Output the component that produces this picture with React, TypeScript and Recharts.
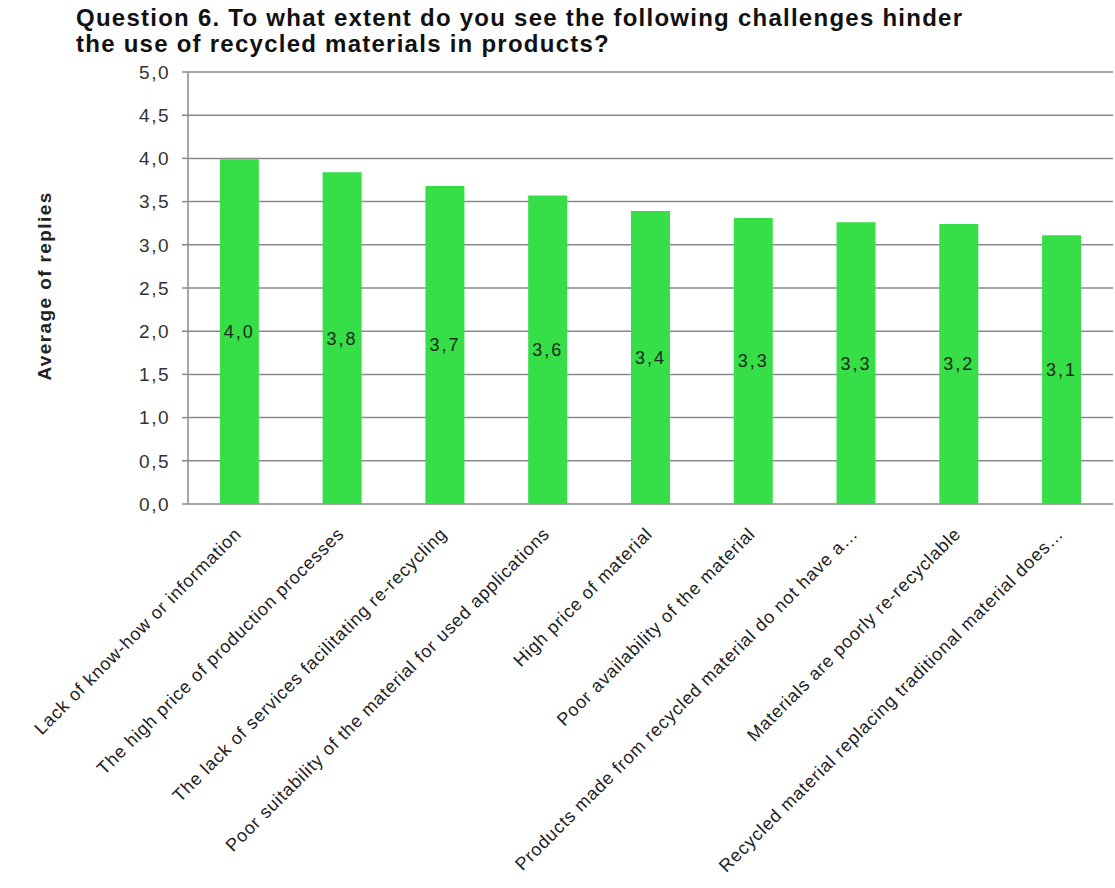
import React from 'react';
import { BarChart, Bar, XAxis, YAxis, CartesianGrid, LabelList, Label } from 'recharts';

const categories = [
  'Lack of know-how or information',
  'The high price of production processes',
  'The lack of services facilitating re-recycling',
  'Poor suitability of the material for used applications',
  'High price of material',
  'Poor availability of the material',
  'Products made from recycled material do not have a…',
  'Materials are poorly re-recyclable',
  'Recycled material replacing traditional material does…',
];
const values = [3.99, 3.84, 3.68, 3.57, 3.39, 3.31, 3.26, 3.24, 3.11];
const yTicks = [0, 0.5, 1, 1.5, 2, 2.5, 3, 3.5, 4, 4.5, 5];
const boundaryTicks = [0, 1, 2, 3, 4, 5, 6, 7, 8, 9];

const data = categories.map((name, i) => ({ name, value: values[i] }));
const fmt = (v: number) => v.toFixed(1).replace('.', ',');
const FONT = '"Liberation Sans", Arial, sans-serif';

const CatTick = (props: any) => {
  const { x, payload } = props;
  const ax = x + 3;
  const ay = 535;
  return (
    <text
      x={ax}
      y={ay}
      transform={`rotate(-45, ${ax}, ${ay})`}
      textAnchor="end"
      fontSize={18}
      letterSpacing={0.8}
      fontFamily={FONT}
      fill="#222"
    >
      {payload.value}
    </text>
  );
};

const YLabel = () => (
  <text
    x={51}
    y={286}
    transform="rotate(-90, 51, 286)"
    textAnchor="middle"
    fontSize={19}
    letterSpacing={1.4}
    fontWeight="bold"
    fontFamily={FONT}
    fill="#222"
  >
    Average of replies
  </text>
);

export default function App() {
  return (
    <div style={{ position: 'absolute', left: 0, top: 0, width: 1115, height: 888, background: '#fff' }}>
      <div
        style={{
          position: 'absolute',
          left: 76,
          top: 5,
          fontFamily: FONT,
          fontWeight: 'bold',
          fontSize: 24,
          letterSpacing: 1.25,
          lineHeight: '26px',
          color: '#111',
          whiteSpace: 'nowrap',
          zIndex: 2,
        }}
      >
        <div>Question 6. To what extent do you see the following challenges hinder</div>
        <div>the use of recycled materials in products?</div>
      </div>
      <BarChart
        width={1115}
        height={888}
        data={data}
        margin={{ top: 72, right: 2, bottom: 0, left: 0 }}
        barCategoryGap="31%"
      >
        <CartesianGrid vertical={false} stroke="#8a8a8a" strokeWidth={1.5} />
        <XAxis
          xAxisId="b"
          type="number"
          domain={[0, 9]}
          allowDataOverflow
          ticks={boundaryTicks}
          tick={false}
          tickSize={6}
          height={0}
          axisLine={{ stroke: '#8a8a8a', strokeWidth: 1.5 }}
          tickLine={{ stroke: '#8a8a8a', strokeWidth: 1.5 }}
        />
        <XAxis
          dataKey="name"
          interval={0}
          height={384}
          axisLine={false}
          tickLine={false}
          tick={<CatTick />}
        />
        <YAxis
          width={188}
          domain={[0, 5]}
          ticks={yTicks}
          tickFormatter={fmt}
          tickSize={6}
          tickMargin={12}
          axisLine={{ stroke: '#8a8a8a', strokeWidth: 1.5 }}
          tickLine={{ stroke: '#8a8a8a', strokeWidth: 1.5 }}
          tick={{ fontSize: 19, letterSpacing: 1.5, fill: '#333', fontFamily: FONT }}
        >
          <Label content={<YLabel />} />
        </YAxis>
        <Bar dataKey="value" fill="#36de48" isAnimationActive={false}>
          <LabelList
            dataKey="value"
            position="center"
            formatter={(v: any) => fmt(Number(v))}
            fontSize={18}
            letterSpacing={2}
            fill="#1b2b1b"
            fontFamily={FONT}
          />
        </Bar>
      </BarChart>
    </div>
  );
}
